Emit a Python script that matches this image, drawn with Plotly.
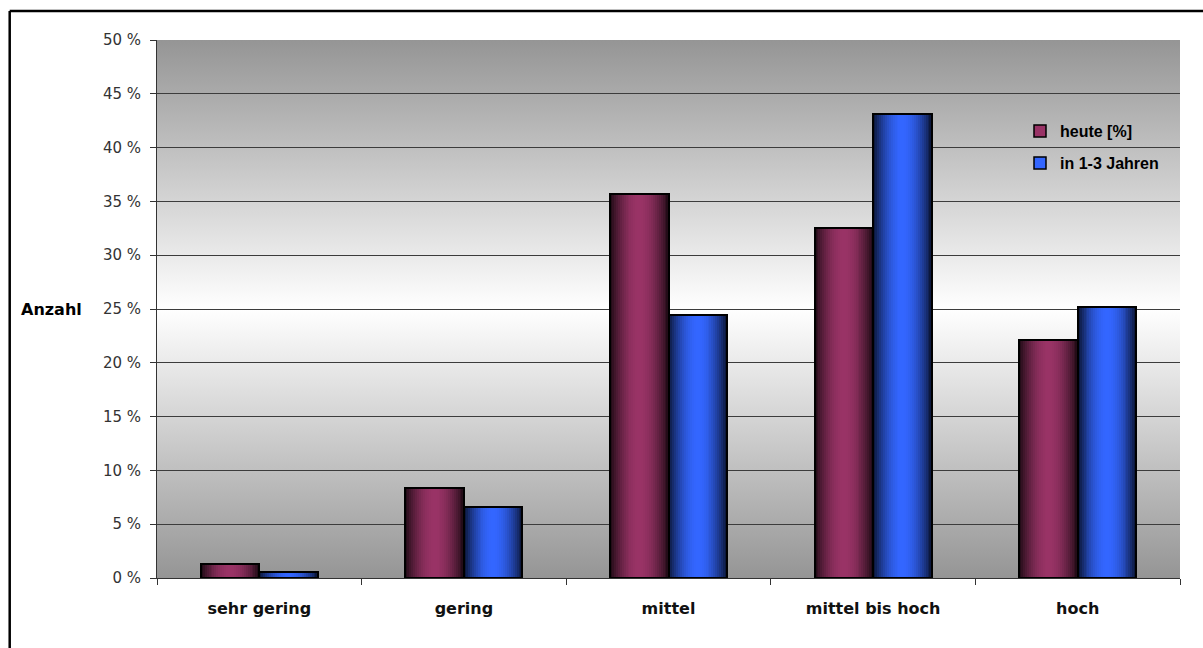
import base64
import math
import plotly.graph_objects as go

# Survey data: share of answers per rating category
categories = ["sehr gering", "gering", "mittel", "mittel bis hoch", "hoch"]
heute = [1.3, 8.4, 35.7, 32.5, 22.1]
in_1_3_jahren = [0.6, 6.6, 24.4, 43.1, 25.2]
series_names = ["heute [%]", "in 1-3 Jahren"]
y_ticks = [0, 5, 10, 15, 20, 25, 30, 35, 40, 45, 50]
y_tick_text = [f"{v} %" for v in y_ticks]

# Base colours of the two series
RED = (153, 51, 102)
BLUE = (51, 102, 255)

BAR_W = 0.286      # width of one bar in category units
N_SLICES = 30      # vertical strips used for the cylinder shading

# Plot-area geometry (pixels)
W_PX, H_PX = 1203, 648
M_L, M_R, M_T, M_B = 157, 23, 40, 70
PLOT_W = W_PX - M_L - M_R
PLOT_H = H_PX - M_T - M_B


def px_x(p):
    return (p - M_L) / PLOT_W


def px_y(p):
    return (H_PX - M_B - p) / PLOT_H


def shade(rgb, t):
    # dark at both edges, full colour towards the middle
    f = 0.18 + 0.82 * (math.sin(math.pi * t) ** 0.9)
    r, g, b = (int(round(c * f)) for c in rgb)
    return f"rgb({r},{g},{b})"


fig = go.Figure()


def add_series(values, rgb, base_offset):
    step = BAR_W / N_SLICES
    for k in range(N_SLICES):
        t = (k + 0.5) / N_SLICES
        fig.add_trace(go.Bar(
            x=categories, y=values,
            offset=base_offset + k * step, width=BAR_W - k * step,
            marker=dict(color=shade(rgb, t), line=dict(width=0)),
            showlegend=False, hoverinfo="skip",
        ))
    # outline
    fig.add_trace(go.Bar(
        x=categories, y=values, offset=base_offset, width=BAR_W,
        marker=dict(color="rgba(0,0,0,0)", line=dict(color="#000000", width=2)),
        showlegend=False, hovertemplate="%{x}: %{y} %<extra></extra>",
    ))


add_series(heute, RED, -BAR_W)
add_series(in_1_3_jahren, BLUE, 0.0)

# legend entries
fig.add_trace(go.Bar(
    x=[categories[0]], y=[None], name=series_names[0], legend="legend",
    marker=dict(color="rgb(153,51,102)", line=dict(color="#000", width=1.5)),
))
fig.add_trace(go.Bar(
    x=[categories[0]], y=[None], name=series_names[1], legend="legend2",
    marker=dict(color="rgb(51,102,255)", line=dict(color="#000", width=1.5)),
))

# vertical grey-white-grey background of the plot area
svg = (
    '<svg xmlns="http://www.w3.org/2000/svg" width="10" height="100" '
    'preserveAspectRatio="none"><defs><linearGradient id="g" x1="0" y1="0" '
    'x2="0" y2="1"><stop offset="0" stop-color="#959595"/>'
    '<stop offset="0.5" stop-color="#ffffff"/>'
    '<stop offset="1" stop-color="#959595"/></linearGradient></defs>'
    '<rect width="10" height="100" fill="url(#g)"/></svg>'
)
bg_src = "data:image/svg+xml;base64," + base64.b64encode(svg.encode()).decode()

legend_common = dict(
    bgcolor="rgba(0,0,0,0)", borderwidth=0,
    font=dict(family="Liberation Sans", size=16, color="#000", weight="bold"),
    xanchor="left", yanchor="middle", itemclick=False,
)

fig.update_layout(
    width=W_PX, height=H_PX,
    margin=dict(l=M_L, r=M_R, t=M_T, b=M_B),
    paper_bgcolor="#ffffff",
    plot_bgcolor="#d0d0d0",
    barmode="overlay",
    bargap=0,
    images=[dict(source=bg_src, xref="paper", yref="paper", x=0, y=1,
                 sizex=1, sizey=1, sizing="stretch", layer="below",
                 xanchor="left", yanchor="top")],
    legend=dict(x=px_x(1020), y=px_y(131), **legend_common),
    legend2=dict(x=px_x(1020), y=px_y(163), **legend_common),
    xaxis=dict(
        type="category", range=[-0.5, 4.5],
        showline=True, linecolor="#333", linewidth=1,
        ticks="outside", tickson="boundaries", ticklen=6, tickcolor="#333",
        showgrid=False,
        tickfont=dict(family="DejaVu Sans", size=16, color="#111", weight="bold"),
        ticklabelstandoff=16,
    ),
    yaxis=dict(
        range=[0, 50], tickmode="array", tickvals=y_ticks, ticktext=y_tick_text,
        showline=True, linecolor="#333", linewidth=1,
        ticks="outside", ticklen=6, tickcolor="#333",
        showgrid=True, gridcolor="#3c3c3c", gridwidth=1,
        zeroline=False,
        tickfont=dict(family="DejaVu Sans", size=15, color="#333"),
        ticklabelstandoff=6,
    ),
    annotations=[dict(
        text="Anzahl", xref="paper", yref="paper", x=px_x(19), y=0.5,
        xanchor="left", yanchor="middle", showarrow=False,
        font=dict(family="DejaVu Sans", size=16, color="#000", weight="bold"),
    )],
    shapes=[
        # outer chart frame (top and left edges)
        dict(type="line", xref="paper", yref="paper",
             x0=px_x(9.7), x1=px_x(1210), y0=px_y(11), y1=px_y(11),
             line=dict(color="#000", width=2.5)),
        dict(type="line", xref="paper", yref="paper",
             x0=px_x(9.7), x1=px_x(9.7), y0=px_y(11), y1=px_y(660),
             line=dict(color="#000", width=2.5)),
    ],
)

fig.write_html("out.html")
